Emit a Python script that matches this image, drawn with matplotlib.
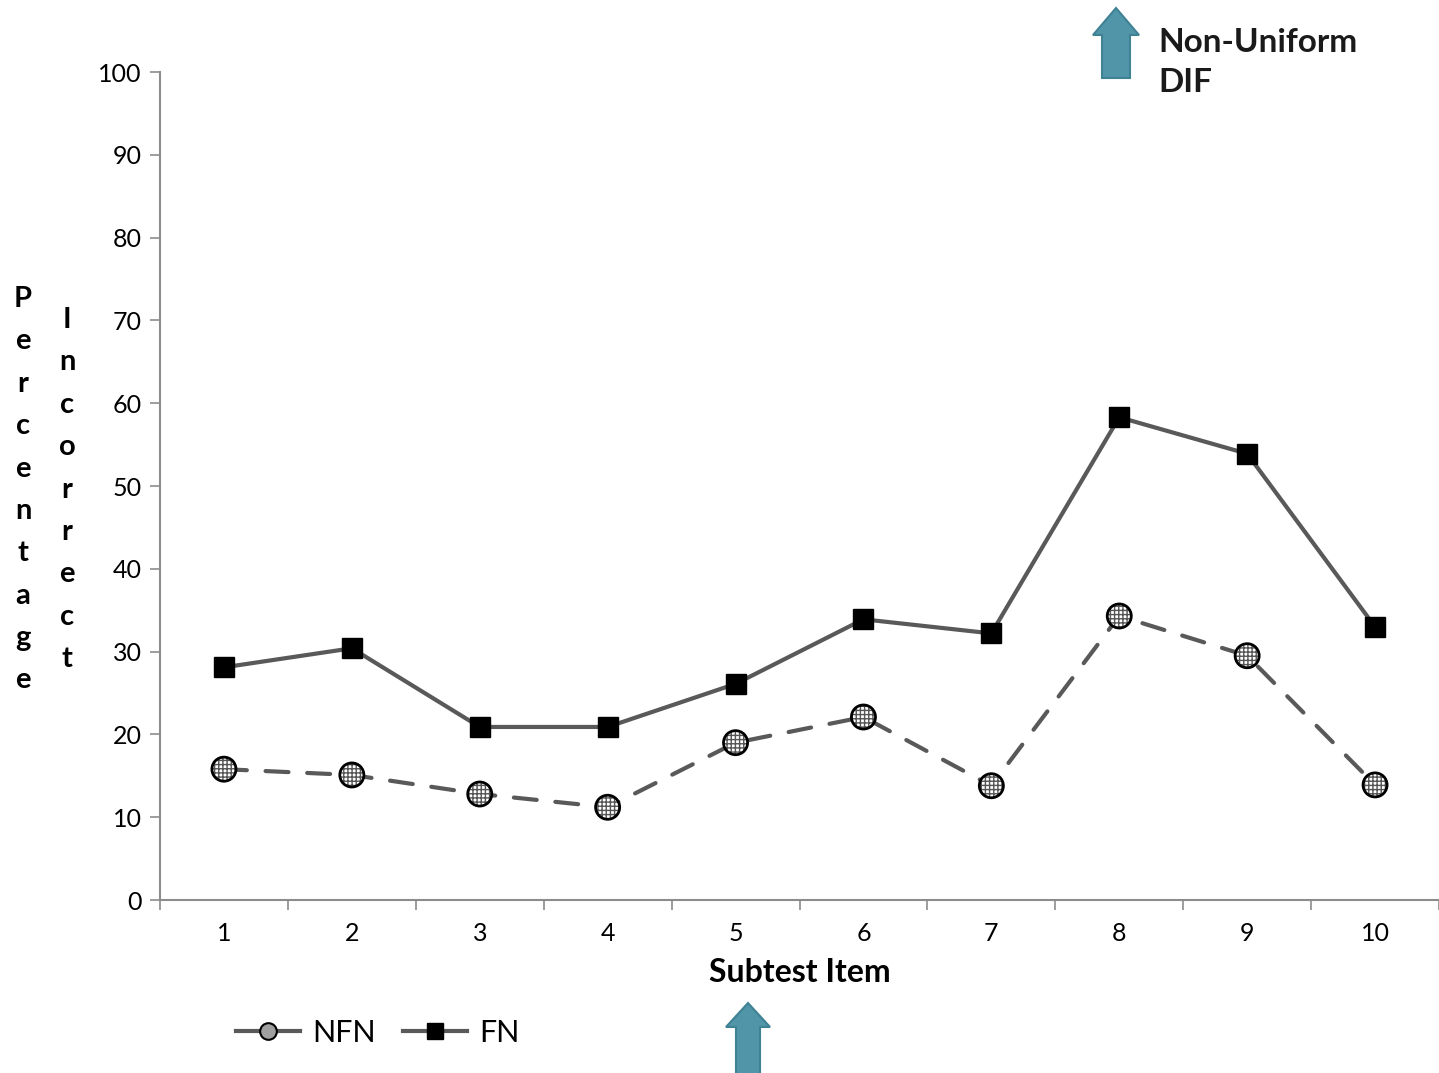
import matplotlib

matplotlib.use("Agg")
import matplotlib.pyplot as plt
from matplotlib.lines import Line2D
from matplotlib.patches import FancyArrow

plt.rcParams["font.family"] = ["Lato", "DejaVu Sans"]

# data
items = list(range(1, 11))
item_labels = [str(i) for i in items]
nfn_pct = [15.8, 15.1, 12.8, 11.2, 19.0, 22.1, 13.8, 34.3, 29.5, 13.9]
fn_pct = [28.1, 30.4, 20.9, 20.9, 26.1, 33.9, 32.2, 58.3, 53.9, 33.0]
y_ticks = list(range(0, 101, 10))

LINE_GREY = "#595959"
SPINE_GREY = "#8c8c8c"
ARROW_FILL = "#5096a8"
ARROW_EDGE = "#3f8294"

figure = plt.figure(figsize=(14.39, 10.73), dpi=100)
axis = figure.add_axes([160 / 1439, 1 - 900 / 1073, 1 - 160 / 1439, (900 - 72) / 1073])

# FN: solid line with black squares
axis.plot(items, fn_pct, color=LINE_GREY, lw=3, solid_capstyle="round", zorder=2)
axis.plot(items, fn_pct, ls="none", marker="s", ms=14, mfc="black", mec="black", zorder=4)

# NFN: dashed line with checkered circles
axis.plot(items, nfn_pct, color=LINE_GREY, lw=3, ls=(0, (5.5, 4.5)),
          dash_capstyle="round", zorder=2)
axis.scatter(items, nfn_pct, s=300, facecolor="white", edgecolor="#555555",
             hatch="++++", linewidths=0, zorder=4)
axis.scatter(items, nfn_pct, s=300, facecolor="none", edgecolor="black",
             linewidths=2, zorder=5)

axis.set_xlim(0.5, 10.5)
axis.set_ylim(0, 100)
axis.set_yticks(y_ticks)
axis.set_xticks(items)
axis.set_xticklabels(item_labels)
axis.set_xticks([i + 0.5 for i in range(0, 11)], minor=True)
axis.tick_params(axis="x", which="major", length=0, labelsize=18, pad=16)
axis.tick_params(axis="x", which="minor", length=7, width=1.2, color=SPINE_GREY)
axis.tick_params(axis="y", length=7, width=1.2, color=SPINE_GREY, labelsize=18, pad=6)
for side in ("top", "right"):
    axis.spines[side].set_visible(False)
for side in ("left", "bottom"):
    axis.spines[side].set_color(SPINE_GREY)
    axis.spines[side].set_linewidth(1.5)

axis.set_xlabel("Subtest Item", fontsize=23, fontweight="bold", labelpad=9)

# stacked-letter y label
figure.text(23 / 1439, 1 - 286 / 1073, "\n".join("Percentage"), ha="center", va="top",
            fontsize=21, fontweight="bold", linespacing=1.78)
figure.text(67 / 1439, 1 - 307 / 1073, "\n".join("Incorrect"), ha="center", va="top",
            fontsize=21, fontweight="bold", linespacing=1.78)

# legend
handles = [
    Line2D([], [], color=LINE_GREY, lw=3, marker="o", ms=12, mfc="#a0a0a0", mec="black", mew=1.5),
    Line2D([], [], color=LINE_GREY, lw=3, marker="s", ms=12, mfc="black", mec="black"),
]
figure.legend(handles, ["NFN", "FN"], loc="center left", bbox_to_anchor=(208 / 1439, 1 - 1033 / 1073),
              ncol=2, frameon=False, fontsize=22, handlelength=2.1, handletextpad=0.4,
              columnspacing=0.9)

# annotation arrows and text
inch = figure.dpi_scale_trans
figure.patches.append(FancyArrow(11.16, (1073 - 78) / 100, 0, 0.70, width=0.28, head_width=0.46,
                                 head_length=0.27, length_includes_head=True, transform=inch,
                                 facecolor=ARROW_FILL, edgecolor=ARROW_EDGE, lw=1.5, figure=figure))
figure.patches.append(FancyArrow(7.48, -0.1, 0, 0.80, width=0.24, head_width=0.44,
                                 head_length=0.24, length_includes_head=True, transform=inch,
                                 facecolor=ARROW_FILL, edgecolor=ARROW_EDGE, lw=1.5, figure=figure))
figure.text(1158 / 1439, 1 - 28 / 1073, "Non-Uniform\nDIF", ha="left", va="top",
            fontsize=24, fontweight="bold", color="#1a1a1a", linespacing=1.45)

figure.savefig("out.png", dpi=100)
plt.close(figure)
